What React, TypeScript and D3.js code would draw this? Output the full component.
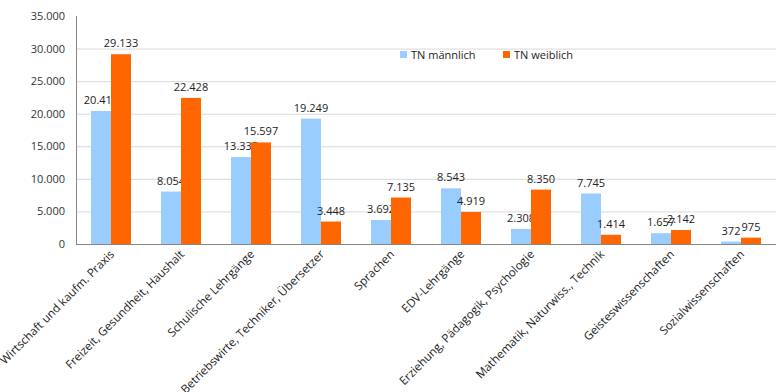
import React, { useEffect, useRef } from 'react';
import * as d3 from 'd3';

const categories = [
  'Wirtschaft und kaufm. Praxis',
  'Freizeit, Gesundheit, Haushalt',
  'Schulische Lehrgänge',
  'Betriebswirte, Techniker, Übersetzer',
  'Sprachen',
  'EDV-Lehrgänge',
  'Erziehung, Pädagogik, Psychologie',
  'Mathematik, Naturwiss., Technik',
  'Geisteswissenschaften',
  'Sozialwissenschaften',
];
const maennlich = [20414, 8054, 13335, 19249, 3692, 8543, 2308, 7745, 1657, 372];
const weiblich = [29133, 22428, 15597, 3448, 7135, 4919, 8350, 1414, 2142, 975];
const seriesNames = ['TN männlich', 'TN weiblich'];
const yTicks = [0, 5000, 10000, 15000, 20000, 25000, 30000, 35000];

const colors = ['#99CCFF', '#FF6600'];
const fmt = (v: number) => d3.format(',')(v).replace(/,/g, '.');

const App = () => {
  const svgRef = useRef<SVGSVGElement>(null);

  useEffect(() => {
    const svg = d3.select(svgRef.current);
    svg.selectAll('*').remove();
    const font = '"Open Sans", Arial, sans-serif';
    const left = 76, right = 776, top = 16, bottom = 244;

    const x = d3.scaleBand().domain(categories).range([left, right]).paddingInner(0).paddingOuter(0);
    const y = d3.scaleLinear().domain([0, 35000]).range([bottom, top]);
    const bw = 20;

    // grid
    svg.selectAll('.grid')
      .data(yTicks.filter(t => t > 0 && t < 35000))
      .enter().append('line')
      .attr('x1', left).attr('x2', right)
      .attr('y1', d => y(d) + 0.5).attr('y2', d => y(d) + 0.5)
      .attr('stroke', '#d9d9d9');

    // y labels
    svg.selectAll('.ylab')
      .data(yTicks)
      .enter().append('text')
      .attr('x', 65).attr('y', d => y(d) + 4)
      .attr('text-anchor', 'end')
      .style('font-family', font).style('font-size', '11px').attr('fill', '#333')
      .text(d => (d === 0 ? '0' : fmt(d)));

    const data = categories.map((c, i) => ({ c, vals: [maennlich[i], weiblich[i]] }));
    const g = svg.selectAll('.grp').data(data).enter().append('g');

    [0, 1].forEach(s => {
      g.append('rect')
        .attr('x', d => x(d.c)! + x.bandwidth() / 2 - bw + s * bw)
        .attr('y', d => y(d.vals[s]))
        .attr('width', bw)
        .attr('height', d => bottom - y(d.vals[s]))
        .attr('fill', colors[s]);
      g.append('text')
        .attr('x', d => x(d.c)! + x.bandwidth() / 2 - bw / 2 + s * bw)
        .attr('y', d => y(d.vals[s]) - 7)
        .attr('text-anchor', 'middle')
        .style('font-family', font).style('font-size', '11px').attr('fill', '#222')
        .text(d => fmt(d.vals[s]));
    });

    // axes lines
    svg.append('line').attr('x1', left + 0.5).attr('x2', left + 0.5).attr('y1', top).attr('y2', bottom)
      .attr('stroke', '#868686');
    svg.append('line').attr('x1', left).attr('x2', right).attr('y1', bottom + 0.5).attr('y2', bottom + 0.5)
      .attr('stroke', '#868686');

    // x labels
    svg.selectAll('.xlab')
      .data(categories)
      .enter().append('text')
      .attr('transform', d => `translate(${x(d)! + x.bandwidth() / 2 + 4},${bottom + 11}) rotate(-45)`)
      .attr('text-anchor', 'end')
      .style('font-family', font).style('font-size', '11.6px').attr('fill', '#222')
      .text(d => d);

    // legend
    const leg = svg.append('g');
    [0, 1].forEach(s => {
      const lx = 400 + s * 103;
      leg.append('rect').attr('x', lx).attr('y', 51).attr('width', 7).attr('height', 7).attr('fill', colors[s]);
      leg.append('text').attr('x', lx + 11).attr('y', 58.5)
        .style('font-family', font).style('font-size', '11px').attr('fill', '#222')
        .text(seriesNames[s]);
    });
  }, []);

  return (
    <svg ref={svgRef} width={777} height={392}
      style={{ position: 'absolute', left: 0, top: 0, background: '#fff' }} />
  );
};

export default App;
